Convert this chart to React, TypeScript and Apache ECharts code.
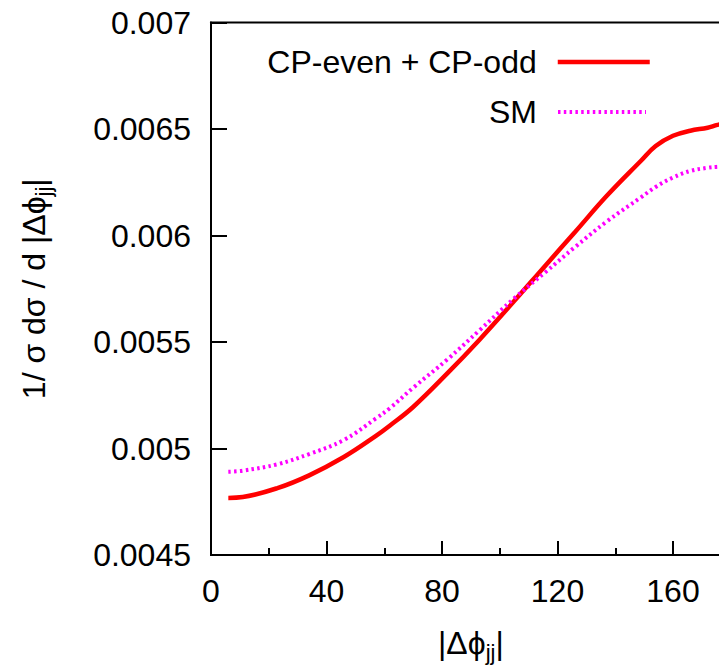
import React, { useEffect, useRef } from "react";
import * as echarts from "echarts";

// |Δφ_jj| values (degrees)
const xValues = [6, 11, 23, 34, 46, 57, 62, 70, 82, 93, 105, 116, 126, 137, 149, 154, 160, 166, 172, 175, 180];
// CP-even + CP-odd
const cpValues = [0.004768, 0.004772, 0.004814, 0.004874, 0.00496, 0.005058, 0.005108, 0.005195, 0.005355, 0.005511, 0.005692, 0.005862, 0.006015, 0.006185, 0.006352, 0.00642, 0.006468, 0.006492, 0.006506, 0.006518, 0.006535];
// SM
const smValues = [0.004891, 0.004896, 0.004926, 0.004974, 0.00504, 0.00514, 0.00519, 0.005285, 0.00542, 0.005555, 0.005705, 0.00583, 0.005945, 0.006065, 0.00618, 0.006228, 0.006272, 0.006303, 0.006318, 0.006322, 0.006325];

const seriesNames = ["CP-even + CP-odd", "SM"];
const xMinorTicks = [20, 60, 100, 140];

const FONT = "Liberation Sans";

export default function App() {
  const ref = useRef<HTMLDivElement>(null);
  useEffect(() => {
    if (!ref.current) return;
    const chart = echarts.init(ref.current, undefined, { renderer: "svg" });
    const cpData = xValues.map((x, i) => [x, cpValues[i]]);
    const smData = xValues.map((x, i) => [x, smValues[i]]);
    const richName = {
      a: { fontFamily: FONT, fontSize: 32, color: "#000", lineHeight: 40 },
      s: { fontFamily: FONT, fontSize: 22, color: "#000", lineHeight: 22, verticalAlign: "bottom" },
    };
    const hiddenSymbol = { color: "rgba(0,0,0,0)", borderColor: "rgba(0,0,0,0)", borderWidth: 0 };
    // container is 760 wide; visible window is 719 wide
    const W = 760;
    chart.setOption({
      animation: false,
      backgroundColor: "#fff",
      grid: {
        left: 211,
        top: 22.5,
        width: 519.75,
        height: 538.5,
        show: true,
        borderColor: "#000",
        borderWidth: 2,
        backgroundColor: "transparent",
      },
      legend: [
        {
          data: [seriesNames[0]],
          right: W - 652,
          top: 46,
          align: "right",
          itemWidth: 92,
          itemHeight: 14,
          padding: 0,
          itemStyle: hiddenSymbol,
          lineStyle: { width: 4.5 },
          textStyle: { fontFamily: FONT, fontSize: 32, color: "#000", padding: [0, 16, 0, 0] },
        },
        {
          data: [seriesNames[1]],
          right: W - 648,
          top: 96,
          align: "right",
          itemWidth: 88,
          itemHeight: 14,
          padding: 0,
          itemStyle: hiddenSymbol,
          lineStyle: { width: 4 },
          textStyle: { fontFamily: FONT, fontSize: 32, color: "#000", padding: [0, 16, 0, 0] },
        },
      ],
      xAxis: [
        {
          type: "value",
          position: "bottom",
          min: 0,
          max: 180,
          interval: 40,
          axisLine: { show: true, lineStyle: { color: "#000", width: 2 } },
          axisTick: { show: true, inside: true, length: 14, lineStyle: { color: "#000", width: 2 } },
          axisLabel: {
            showMaxLabel: false,
            margin: 20,
            fontFamily: FONT,
            fontSize: 32,
            color: "#000",
          },
          splitLine: { show: false },
          name: "{a||Δϕ}{s|jj}{a||}",
          nameLocation: "middle",
          nameGap: 68,
          nameTextStyle: { fontFamily: FONT, fontSize: 32, color: "#000", rich: richName },
        },
        {
          type: "value",
          position: "bottom",
          min: 0,
          max: 180,
          axisLine: { show: false },
          axisTick: {
            show: true,
            inside: true,
            length: 7,
            customValues: xMinorTicks,
            lineStyle: { color: "#000", width: 2 },
          },
          axisLabel: { show: false },
          splitLine: { show: false },
        },
      ],
      yAxis: {
        type: "value",
        min: 0.0045,
        max: 0.007,
        interval: 0.0005,
        axisLine: { show: true, lineStyle: { color: "#000", width: 2 } },
        axisTick: { show: true, inside: true, length: 16, lineStyle: { color: "#000", width: 2 } },
        axisLabel: {
          margin: 20,
          fontFamily: FONT,
          fontSize: 32,
          color: "#000",
          formatter: (v: number) => String(parseFloat(v.toFixed(5))),
        },
        splitLine: { show: false },
        name: "{a|1/ σ dσ / d |Δϕ}{s|jj}{a||}",
        nameLocation: "middle",
        nameRotate: 90,
        nameGap: 157,
        nameTextStyle: { fontFamily: FONT, fontSize: 32, color: "#000", rich: richName },
      },
      series: [
        {
          name: seriesNames[0],
          type: "line",
          xAxisIndex: 0,
          data: cpData,
          symbol: "none",
          smooth: 0.4,
          lineStyle: { color: "#ff0000", width: 4.5 },
          itemStyle: { color: "#ff0000" },
        },
        {
          name: seriesNames[1],
          type: "line",
          xAxisIndex: 0,
          data: smData,
          symbol: "none",
          smooth: 0.4,
          lineStyle: { color: "#ff00ff", width: 4, type: [2.5, 3.3] },
          itemStyle: { color: "#ff00ff" },
        },
      ],
    });
    return () => chart.dispose();
  }, []);
  return (
    <div style={{ position: "fixed", left: 0, top: 0, width: 719, height: 668, overflow: "hidden", background: "#fff" }}>
      <div ref={ref} style={{ width: 760, height: 668 }} />
    </div>
  );
}
